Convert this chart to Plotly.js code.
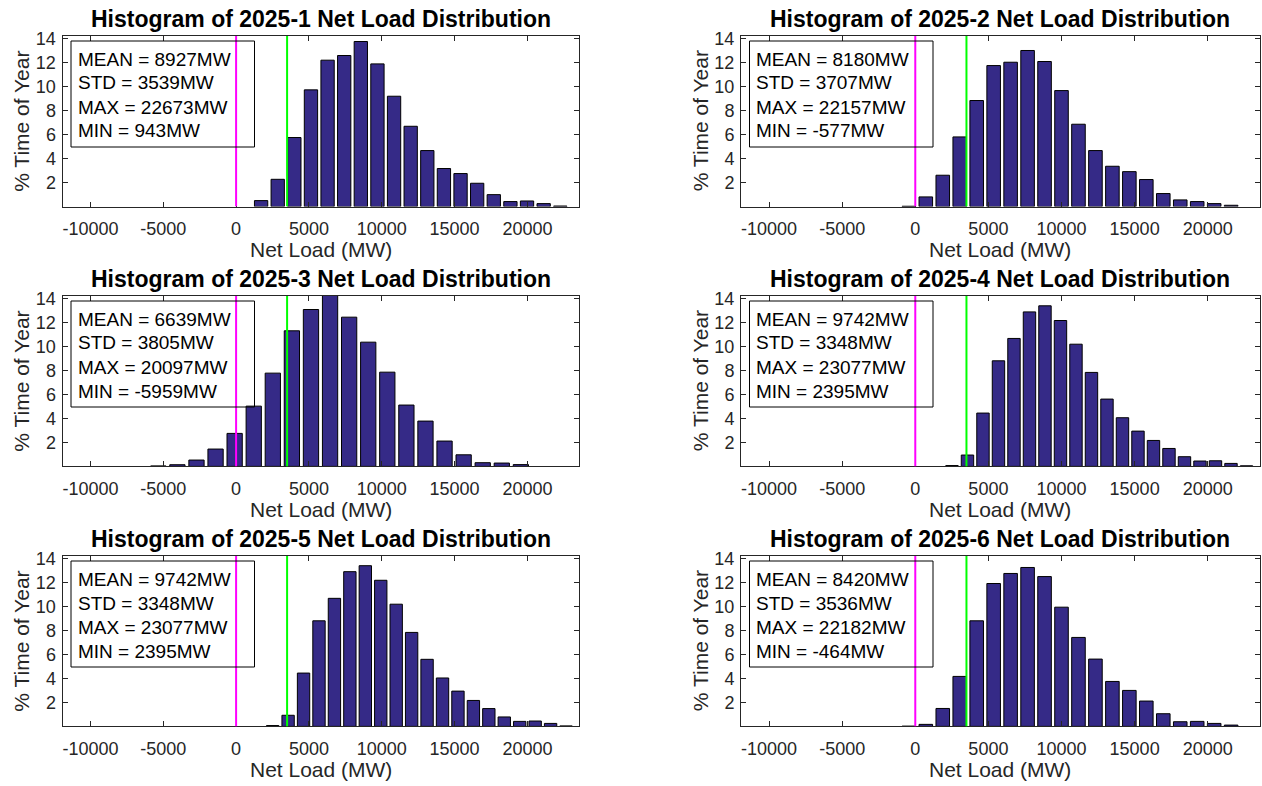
<!DOCTYPE html>
<html>
<head>
<meta charset="utf-8">
<script src="https://cdn.plot.ly/plotly-3.0.1.min.js"></script>
<style>
  html, body { margin: 0; padding: 0; background: #ffffff; }
  #chart { width: 1262px; height: 786px; }
</style>
</head>
<body>
<div id="chart"></div>
<script>
// ---------------- data ----------------
const months = ['2025-1', '2025-2', '2025-3', '2025-4', '2025-5', '2025-6'];
const meanMW = [8927, 8180, 6639, 9742, 9742, 8420];
const stdMW  = [3539, 3707, 3805, 3348, 3348, 3536];
const maxMW  = [22673, 22157, 20097, 23077, 23077, 22182];
const minMW  = [943, -577, -5959, 2395, 2395, -464];

// bin centres (MW)
const centers1 = [1716, 2857, 3998, 5139, 6280, 7421, 8562, 9703, 10844, 11985, 13126, 14267, 15408, 16549, 17690, 18831, 19972, 21113, 22254];
const centers2 = [-440, 720, 1880, 3040, 4200, 5360, 6520, 7680, 8840, 10000, 11160, 12320, 13480, 14640, 15800, 16960, 18120, 19280, 20440, 21600];
const centers3 = [-5340, -4030, -2720, -1410, -100, 1210, 2520, 3830, 5140, 6450, 7760, 9070, 10380, 11690, 13000, 14310, 15620, 16930, 18240, 19550];
const centers4 = [2510, 3570, 4630, 5690, 6750, 7810, 8870, 9930, 10990, 12050, 13110, 14170, 15230, 16290, 17350, 18410, 19470, 20530, 21590, 22650];
const centers5 = [2510, 3570, 4630, 5690, 6750, 7810, 8870, 9930, 10990, 12050, 13110, 14170, 15230, 16290, 17350, 18410, 19470, 20530, 21590, 22650];
const centers6 = [-440, 720, 1880, 3040, 4200, 5360, 6520, 7680, 8840, 10000, 11160, 12320, 13480, 14640, 15800, 16960, 18120, 19280, 20440, 21600];

// % time of year per bin
const pct1 = [0.50, 2.28, 5.77, 9.75, 12.23, 12.62, 13.79, 11.92, 9.22, 6.71, 4.68, 3.18, 2.76, 1.95, 1.00, 0.42, 0.47, 0.25, 0.05];
const pct2 = [0.03, 0.81, 2.62, 5.82, 8.86, 11.78, 12.06, 13.04, 12.12, 9.69, 6.88, 4.68, 3.37, 2.92, 2.26, 1.09, 0.56, 0.42, 0.25, 0.11];
const pct3 = [0.04, 0.14, 0.53, 1.45, 2.76, 5.04, 7.80, 11.34, 13.12, 14.30, 12.48, 10.39, 7.88, 5.13, 3.79, 2.12, 0.97, 0.31, 0.28, 0.15];
const pct4 = [0.07, 0.95, 4.46, 8.83, 10.70, 12.92, 13.43, 12.20, 10.22, 7.86, 5.63, 4.07, 2.95, 2.17, 1.50, 0.81, 0.45, 0.47, 0.25, 0.05];
const pct5 = [0.07, 0.93, 4.46, 8.83, 10.71, 12.94, 13.44, 12.22, 10.22, 7.86, 5.61, 4.05, 2.95, 2.17, 1.49, 0.79, 0.42, 0.45, 0.25, 0.04];
const pct6 = [0.02, 0.17, 1.50, 4.18, 8.83, 11.95, 12.79, 13.29, 12.53, 9.97, 7.44, 5.63, 3.76, 3.01, 2.12, 1.06, 0.39, 0.42, 0.25, 0.11];

const xTicks = [-10000, -5000, 0, 5000, 10000, 15000, 20000];
const yTicks = [2, 4, 6, 8, 10, 12, 14];
const xRange = [-11918, 23540];
const yRange = [0, 14.25];
const refLines = [0, 3500];          // MW
const refColors = ['#FF00FF', '#00FF00'];

const allCenters = [centers1, centers2, centers3, centers4, centers5, centers6];
const allPct = [pct1, pct2, pct3, pct4, pct5, pct6];

// ---------------- layout geometry (pixels) ----------------
const W = 1262, H = 786;
const colPx = [[62.5, 579], [741, 1259.5]];
const rowPx = [[36, 206.6], [296, 466.4], [556, 726.4]];
const FONT = 'Liberation Sans, Arial, Helvetica, sans-serif';
const INK = '#262626';

const px2x = p => p / W;
const px2y = p => 1 - p / H;

const traces = [];
const layout = {
  width: W, height: H, autosize: false,
  margin: {l: 0, r: 0, t: 0, b: 0, pad: 0},
  paper_bgcolor: '#ffffff', plot_bgcolor: '#ffffff',
  showlegend: false, bargap: 0.2,
  font: {family: FONT, color: INK},
  shapes: [], annotations: []
};

for (let i = 0; i < 6; i++) {
  const col = i % 2, row = Math.floor(i / 2);
  const sfx = i === 0 ? '' : String(i + 1);
  const xa = 'x' + sfx, ya = 'y' + sfx;
  const cp = colPx[col], rp = rowPx[row];
  const c = allCenters[i];
  const binW = (c[c.length - 1] - c[0]) / (c.length - 1);

  traces.push({
    type: 'bar', x: c, y: allPct[i], xaxis: xa, yaxis: ya,
    width: 0.8 * binW,
    marker: {color: 'rgb(53,42,135)', line: {color: '#000000', width: 1}},
    hoverinfo: 'x+y'
  });

  const axCommon = {
    showline: true, mirror: 'allticks', linecolor: INK, linewidth: 1,
    ticks: 'inside', ticklen: 5, tickwidth: 1, tickcolor: INK,
    showgrid: false, zeroline: false, fixedrange: true,
    tickfont: {family: FONT, size: 18, color: INK}
  };
  layout['xaxis' + sfx] = Object.assign({}, axCommon, {
    domain: [px2x(cp[0]), px2x(cp[1])], anchor: ya, range: xRange,
    tickmode: 'array', tickvals: xTicks, ticktext: xTicks.map(String),
    ticklabelstandoff: 6
  });
  layout['yaxis' + sfx] = Object.assign({}, axCommon, {
    domain: [px2y(rp[1]), px2y(rp[0])], anchor: xa, range: yRange,
    tickmode: 'array', tickvals: yTicks, ticktext: yTicks.map(String),
    ticklabelstandoff: 2
  });

  // reference lines
  refLines.forEach((v, k) => {
    layout.shapes.push({type: 'line', xref: xa, yref: ya, x0: v, x1: v, y0: yRange[0], y1: yRange[1],
      line: {color: refColors[k], width: 2}, layer: 'above'});
  });

  // stats box
  layout.shapes.push({type: 'rect', xref: 'paper', yref: 'paper',
    x0: px2x(cp[0] + 8.5), x1: px2x(cp[0] + 192), y0: px2y(rp[0] + 111), y1: px2y(rp[0] + 5),
    line: {color: '#000000', width: 1}, fillcolor: 'rgba(0,0,0,0)', layer: 'above'});
  const lines = ['MEAN = ' + meanMW[i] + 'MW', 'STD = ' + stdMW[i] + 'MW',
                 'MAX = ' + maxMW[i] + 'MW', 'MIN = ' + minMW[i] + 'MW'];
  lines.forEach((t, k) => {
    layout.annotations.push({text: t, xref: 'paper', yref: 'paper',
      x: px2x(cp[0] + 13), y: px2y(rp[0] + 23 + 24 * k), xanchor: 'left', yanchor: 'middle',
      showarrow: false, font: {family: FONT, size: 19, color: '#000000'}});
  });

  // subplot title
  layout.annotations.push({text: '<b>Histogram of ' + months[i] + ' Net Load Distribution</b>',
    xref: 'paper', yref: 'paper', x: px2x((cp[0] + cp[1]) / 2), y: px2y(rp[0] - 17),
    xanchor: 'center', yanchor: 'middle', showarrow: false,
    font: {family: FONT, size: 23, color: '#000000'}});
  // x axis title
  layout.annotations.push({text: 'Net Load (MW)', xref: 'paper', yref: 'paper',
    x: px2x((cp[0] + cp[1]) / 2), y: px2y(rp[1] + 43), xanchor: 'center', yanchor: 'middle',
    showarrow: false, font: {family: FONT, size: 21, color: INK}});
  // y axis title
  layout.annotations.push({text: '% Time of Year', xref: 'paper', yref: 'paper', textangle: -90,
    x: px2x(cp[0] - 41), y: px2y((rp[0] + rp[1]) / 2), xanchor: 'center', yanchor: 'middle',
    showarrow: false, font: {family: FONT, size: 21, color: INK}});
}

Plotly.newPlot('chart', traces, layout, {displayModeBar: false, staticPlot: true});
</script>
</body>
</html>
